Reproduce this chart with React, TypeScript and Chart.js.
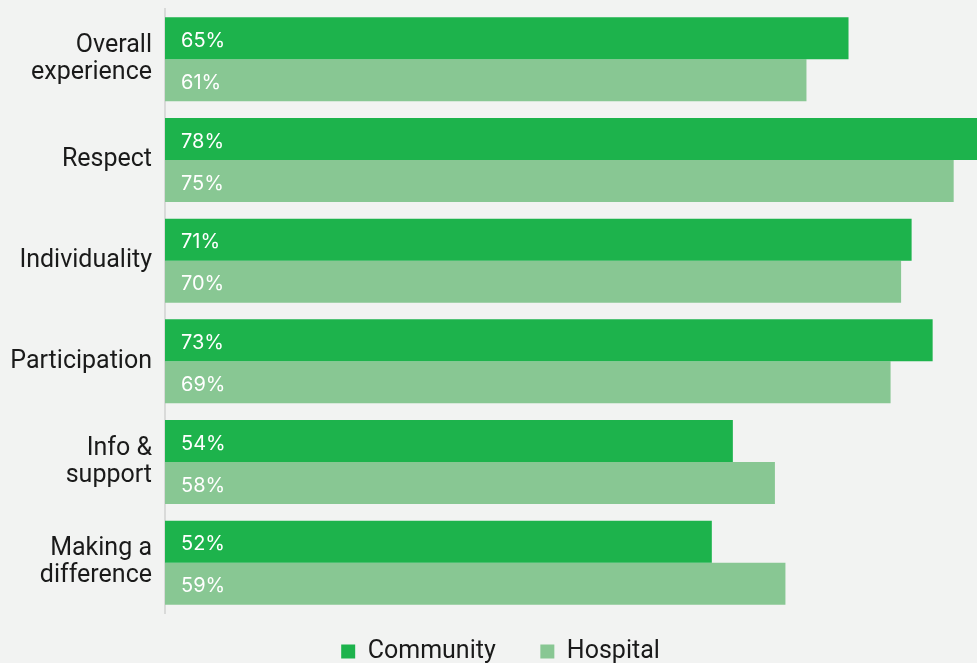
import React, { useEffect, useRef } from "react";
import { Chart, registerables } from "chart.js";

Chart.register(...registerables);

const categories: string[][] = [
  ["Overall", "experience"],
  ["Respect"],
  ["Individuality"],
  ["Participation"],
  ["Info &", "support"],
  ["Making a", "difference"],
];
const communityValues = [65, 78, 71, 73, 54, 52];
const hospitalValues = [61, 75, 70, 69, 58, 59];
const seriesNames = ["Community", "Hospital"];

const COMMUNITY = "#1db34c";
const HOSPITAL = "#88c793";
const BG = "#f2f3f2";
const FONT = "Roboto, 'Noto Sans', sans-serif";
const VALUE_FONT = "Inter, Roboto, sans-serif";

const valueLabels = {
  id: "valueLabels",
  afterDatasetsDraw(chart: any) {
    const ctx = chart.ctx;
    ctx.save();
    ctx.fillStyle = "#ffffff";
    ctx.font = `20px ${VALUE_FONT}`;
    ctx.textAlign = "left";
    ctx.textBaseline = "middle";
    chart.data.datasets.forEach((ds: any, di: number) => {
      const meta = chart.getDatasetMeta(di);
      meta.data.forEach((bar: any, i: number) => {
        ctx.fillText(`${ds.data[i]}%`, chart.chartArea.left + 16, bar.y + 2.5);
      });
    });
    ctx.restore();
  },
};

export default function App() {
  const ref = useRef<HTMLCanvasElement>(null);
  useEffect(() => {
    if (!ref.current) return;
    const chart = new Chart(ref.current, {
      type: "bar",
      data: {
        labels: categories,
        datasets: [
          {
            label: seriesNames[0],
            data: communityValues,
            backgroundColor: COMMUNITY,
            categoryPercentage: 0.835,
            barPercentage: 1,
          },
          {
            label: seriesNames[1],
            data: hospitalValues,
            backgroundColor: HOSPITAL,
            categoryPercentage: 0.835,
            barPercentage: 1,
          },
        ],
      },
      options: {
        indexAxis: "y",
        animation: false,
        responsive: false,
        maintainAspectRatio: false,
        layout: { padding: { top: 9, right: 0, bottom: 0, left: 0 } },
        scales: {
          x: { display: false, min: 0, max: 79.5 },
          y: {
            grid: { display: false, drawTicks: false },
            border: { display: true, color: "#d9dad9", width: 2 },
            ticks: {
              color: "#1a1a1a",
              padding: 13,
              font: { family: FONT, size: 25, lineHeight: 1.08 },
            },
            afterFit(scale: any) {
              scale.width = 165;
              scale.paddingTop = 0;
              scale.paddingBottom = 0;
            },
          },
        },
        plugins: {
          legend: {
            position: "bottom",
            labels: {
              boxWidth: 14,
              boxHeight: 14,
              padding: 26,
              color: "#1a1a1a",
              font: { family: FONT, size: 25 },
              generateLabels(chart: any) {
                const items = Chart.defaults.plugins.legend.labels.generateLabels(chart);
                return items.map((it: any, i: number) => ({
                  ...it,
                  text: i < items.length - 1 ? it.text + "   " : it.text,
                  lineWidth: 0,
                }));
              },
            },
          },
          tooltip: { enabled: false },
        },
      },
      plugins: [valueLabels],
    });
    return () => chart.destroy();
  }, []);
  return (
    <div
      style={{
        position: "absolute",
        left: 0,
        top: 0,
        width: 977,
        height: 663,
        overflow: "hidden",
        background: BG,
      }}
    >
      <canvas ref={ref} width={1001} height={674} style={{ display: "block" }} />
    </div>
  );
}
